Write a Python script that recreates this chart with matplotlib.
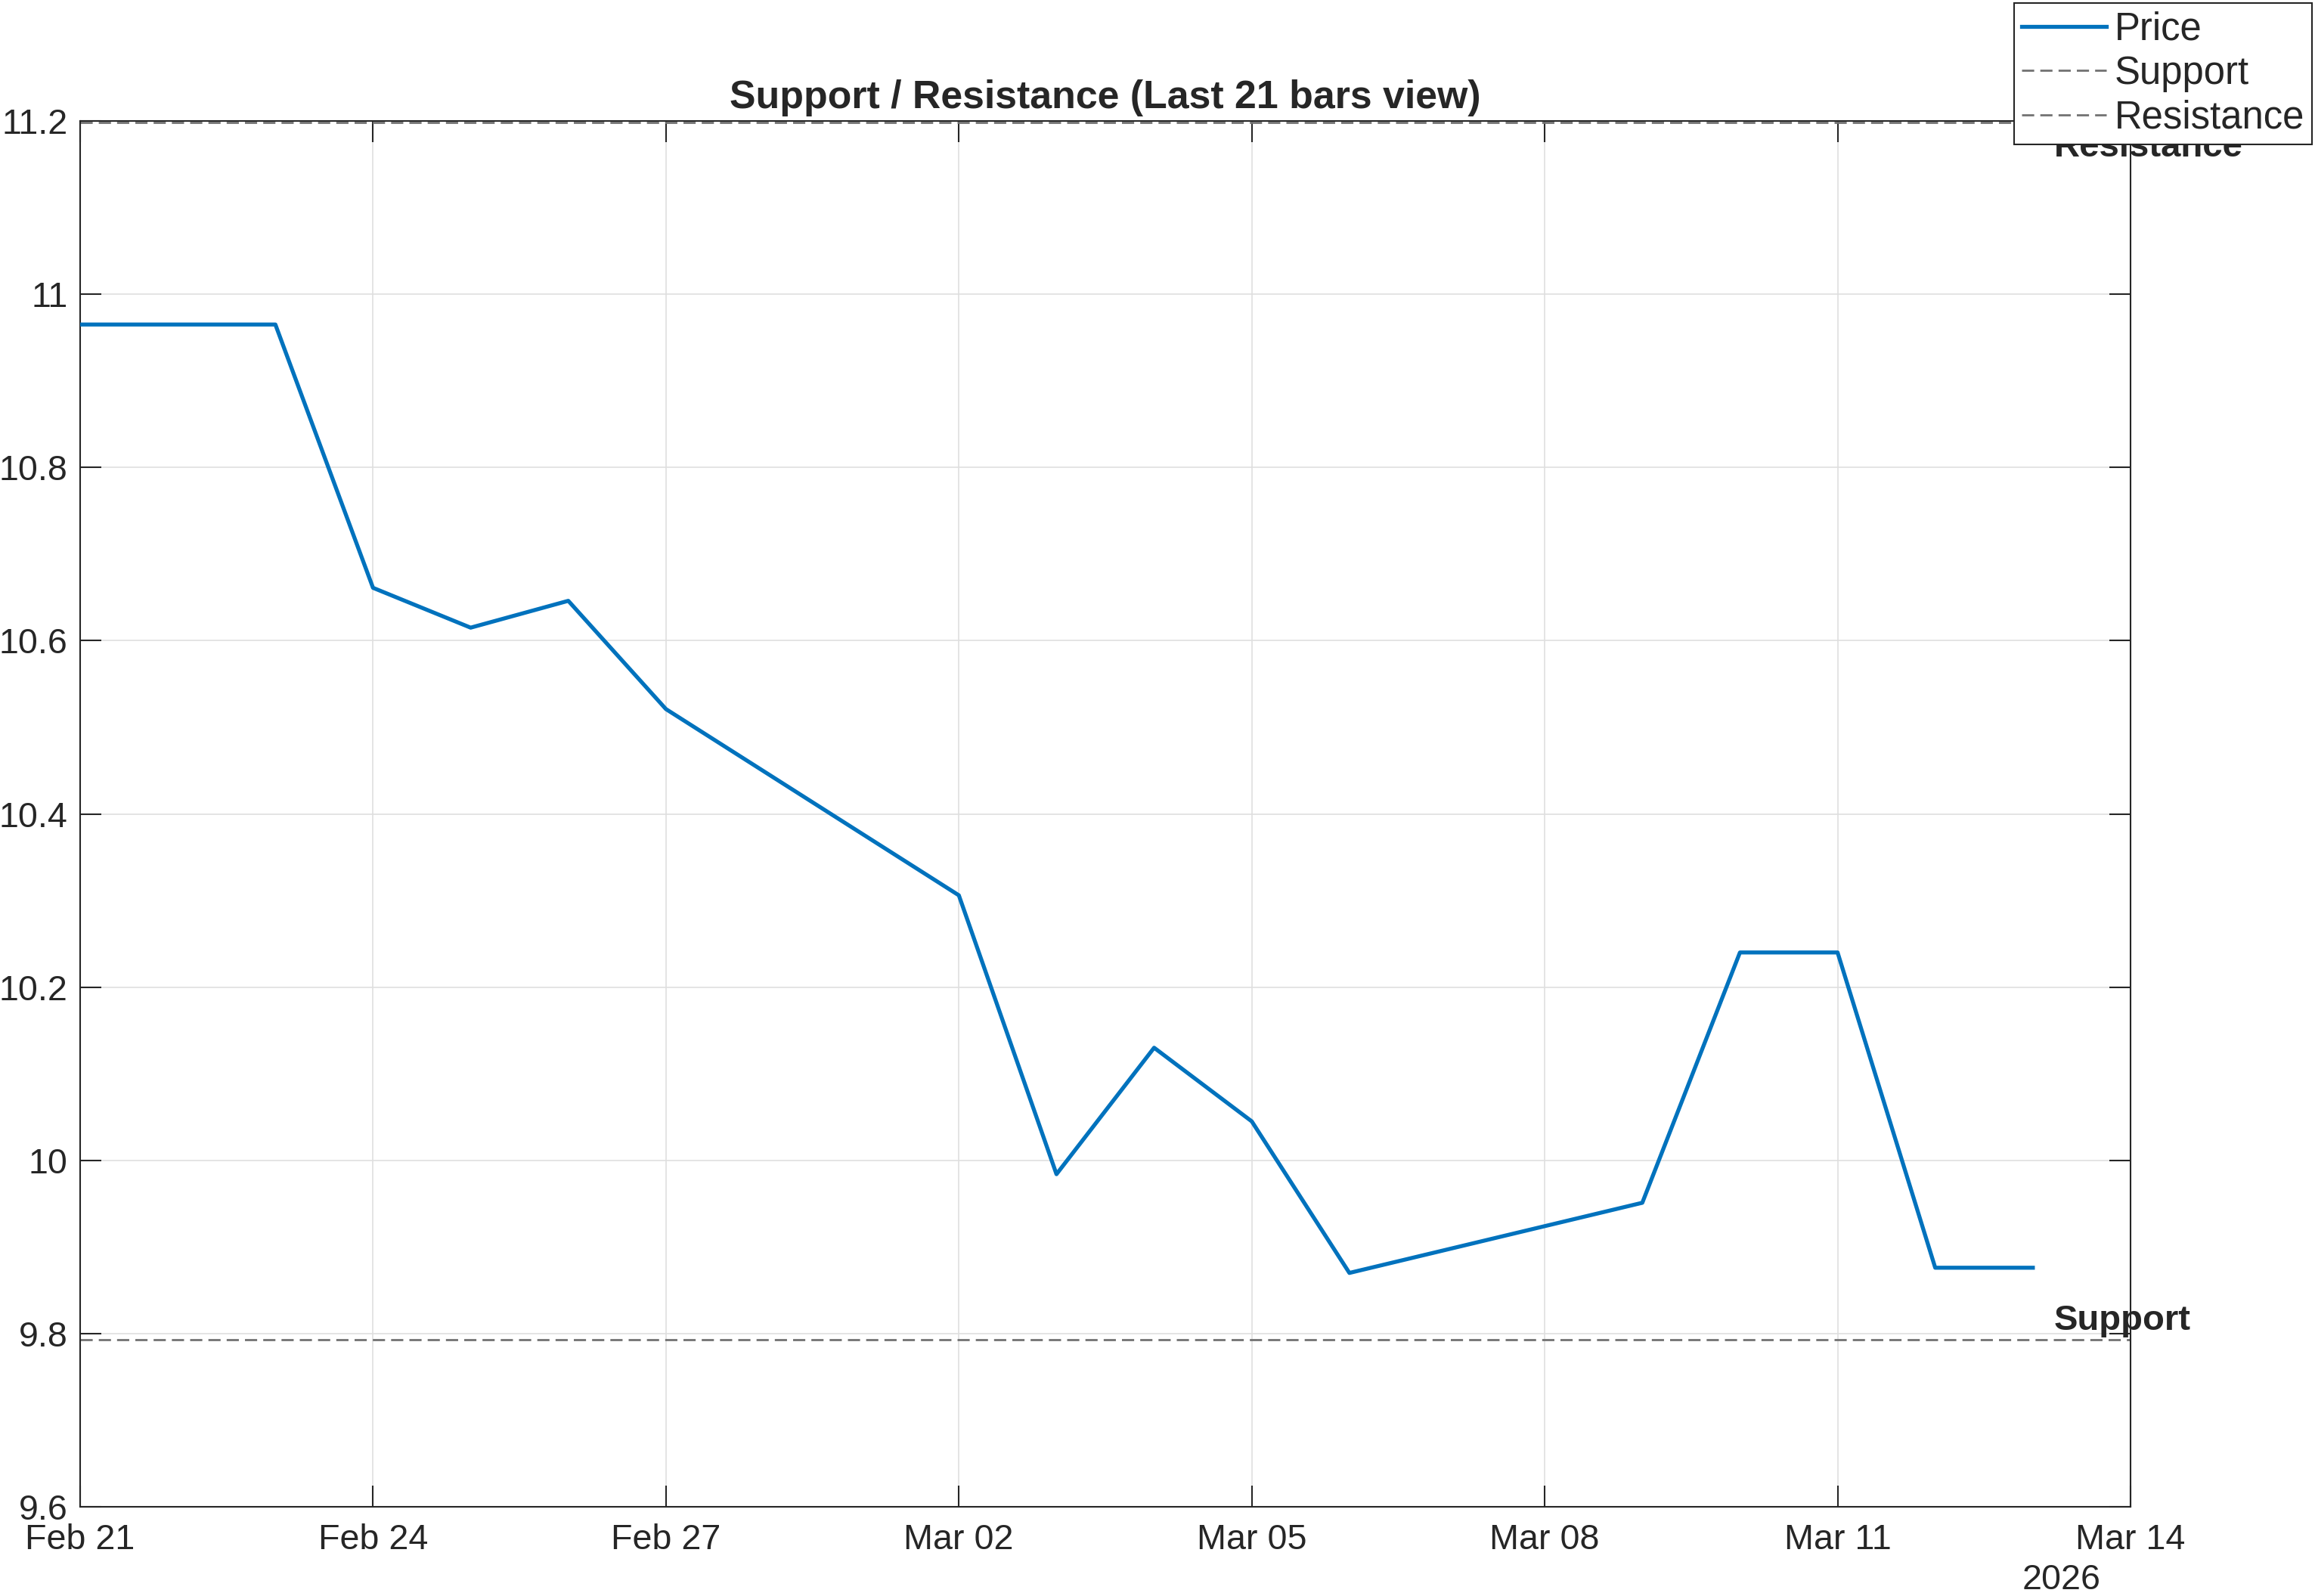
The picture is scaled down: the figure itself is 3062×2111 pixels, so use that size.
import numpy as np
import pandas as pd
import matplotlib
matplotlib.use('Agg')
import matplotlib.pyplot as plt
import matplotlib.dates as mdates
from matplotlib.ticker import FuncFormatter

# data
dates = pd.to_datetime(['2026-02-21', '2026-02-23', '2026-02-24', '2026-02-25', '2026-02-26',
                        '2026-02-27', '2026-03-02', '2026-03-03', '2026-03-04', '2026-03-05',
                        '2026-03-06', '2026-03-09', '2026-03-10', '2026-03-11', '2026-03-12',
                        '2026-03-13'])
price = [10.965, 10.965, 10.661, 10.615, 10.646, 10.521, 10.306, 9.984, 10.130, 10.045,
         9.870, 9.951, 10.240, 10.240, 9.876, 9.876]
support = 9.793
resistance = 11.198
xticks = pd.date_range('2026-02-21', '2026-03-14', freq='3D')
yticks = [9.6, 9.8, 10, 10.2, 10.4, 10.6, 10.8, 11, 11.2]

plt.rcParams['font.family'] = ['Liberation Sans', 'DejaVu Sans']
dark = '#262626'
dash = (0, (5.8, 2.9))

fig = plt.figure(figsize=(15.31, 10.555), dpi=200)
ax = fig.add_axes([0.0346, 0.0559, 0.8857, 0.8683])

ax.plot(dates, price, color='#0072BD', lw=1.9, label='Price', zorder=3)
ax.axhline(support, color='#727272', lw=1.0, ls=dash, label='Support', zorder=2)
ax.axhline(resistance, color='#727272', lw=1.0, ls=dash, label='Resistance', zorder=2)

ax.annotate('Support', (dates[-1], support), xytext=(10, 1), textcoords='offset points',
            fontsize=17, fontweight='bold', color=dark, va='bottom', ha='left',
            annotation_clip=False)
ax.annotate('Resistance', (dates[-1], resistance), xytext=(10, -4), textcoords='offset points',
            fontsize=17, fontweight='bold', color=dark, va='top', ha='left',
            annotation_clip=False)

ax.set_xlim(pd.Timestamp('2026-02-21'), pd.Timestamp('2026-03-14'))
ax.set_ylim(9.6, 11.2)
ax.set_xticks(xticks)
ax.xaxis.set_major_formatter(mdates.DateFormatter('%b %d'))
ax.set_yticks(yticks)
ax.yaxis.set_major_formatter(FuncFormatter(lambda v, p: '%g' % round(v, 2)))

ax.grid(True, color='#dfdfdf', lw=0.6)
ax.set_axisbelow(True)
for s in ax.spines.values():
    s.set_color(dark)
    s.set_linewidth(0.75)
ax.tick_params(direction='in', length=10, width=0.75, color=dark, labelcolor=dark,
               labelsize=16.8, top=True, right=True)
ax.tick_params(axis='x', pad=8)
ax.tick_params(axis='y', pad=6)

ax.set_title('Support / Resistance (Last 21 bars view)', fontsize=18.7, fontweight='bold',
             color=dark, pad=6)
ax.text(0.9856, -0.041, '2026', transform=ax.transAxes, ha='right', va='top',
        fontsize=16.8, color=dark)

leg = fig.legend(loc='upper right', bbox_to_anchor=(0.9987, 0.998), bbox_transform=fig.transFigure,
                 borderaxespad=0, fontsize=18.3, handlelength=2.2, handletextpad=0.2,
                 labelspacing=0.19, borderpad=0.2, fancybox=False, framealpha=1,
                 edgecolor=dark)
leg.get_frame().set_linewidth(0.75)
for t in leg.get_texts():
    t.set_color(dark)

fig.savefig('out.png', dpi=200)
